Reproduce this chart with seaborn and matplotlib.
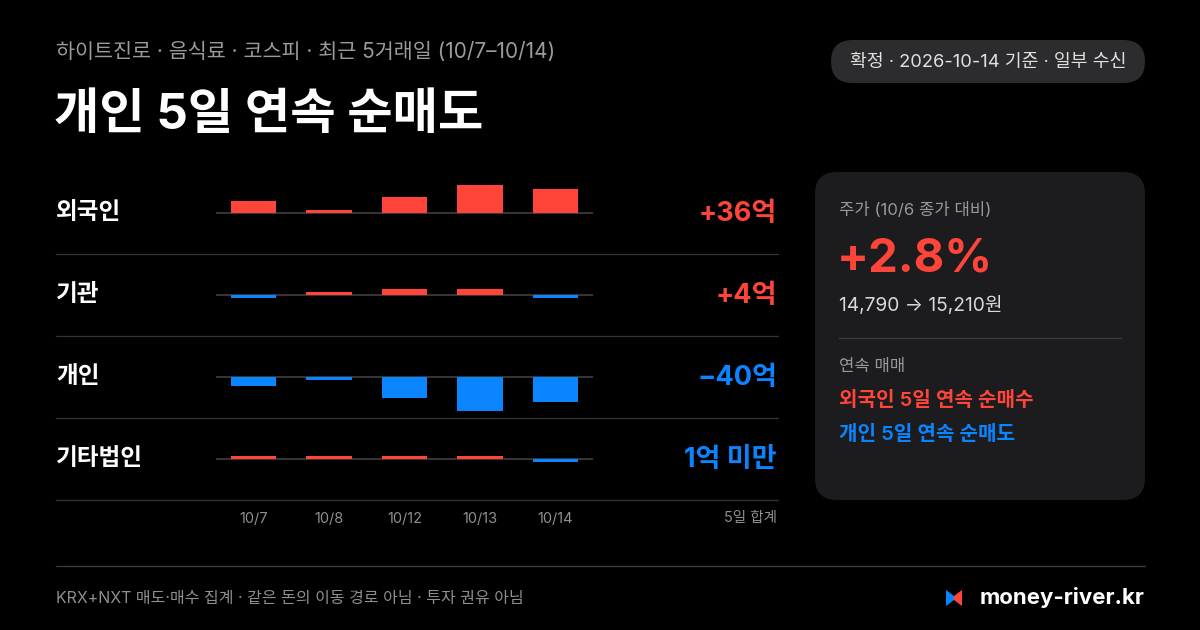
import numpy as np
import pandas as pd
import matplotlib.pyplot as plt
from matplotlib.patches import FancyBboxPatch, Polygon
import seaborn as sns

# 데이터 (단위: 억원)
dates = ['10/7', '10/8', '10/12', '10/13', '10/14']
investors = ['외국인', '기관', '개인', '기타법인']
foreign = [5.2, 1.3, 6.9, 12.1, 10.5]
institution = [-1.1, 0.9, 2.7, 2.7, -1.2]
individual = [-3.9, -1.3, -9.1, -14.8, -10.9]
other_corp = [0.2, 0.2, 0.2, 0.2, -0.9]
prev_close = 14790
last_close = 15210

RED = '#ff453a'
BLUE = '#0a84ff'
BG = '#000000'
GRID = '#3a3a3c'
W, H = 1200, 630

sns.set_theme(style='dark')
# 라틴 문자는 Inter, 한글은 Noto Sans CJK KR
plt.rcParams['font.family'] = ['Inter', 'Noto Sans CJK KR', 'DejaVu Sans']

fig = plt.figure(figsize=(12, 6.3), dpi=100)
fig.patch.set_facecolor(BG)

# 배경 레이어 (픽셀 좌표)
bg = fig.add_axes([0, 0, 1, 1])
bg.set_xlim(0, W)
bg.set_ylim(H, 0)
bg.axis('off')
bg.set_facecolor(BG)

# 헤더
bg.text(56, 52, '하이트진로 · 음식료 · 코스피 · 최근 5거래일 (10/7–10/14)', color='#9a9a9e',
        fontsize=14.9, va='center', ha='left')
bg.text(54, 116, '개인 5일 연속 순매도', color='white', fontsize=35.5, fontweight='bold',
        va='center', ha='left')
pill = FancyBboxPatch((831, 40), 314, 43, boxstyle='round,pad=0,rounding_size=21.5',
                      fc='#2c2c2e', ec='none')
bg.add_patch(pill)
bg.text(988, 62, '확정 · 2026-10-14 기준 · 일부 수신', color='#e0e0e0', fontsize=13.2,
        va='center', ha='center')

# 행별 막대
rows = [foreign, institution, individual, other_corp]
half = 35
scale = 0.435  # 억/px
min_h = 1.17
for i, (name, vals) in enumerate(zip(investors, rows)):
    y0 = 213 + 82 * i
    vals = np.array(vals)
    shown = np.sign(vals) * np.maximum(np.abs(vals), min_h)
    colors = [RED if v > 0 else BLUE for v in vals]
    ax = fig.add_axes([216 / W, (H - (y0 + half)) / H, 377 / W, 2 * half / H])
    ax.set_facecolor('none')
    df = pd.DataFrame({'date': dates, 'value': shown})
    sns.barplot(data=df, x='date', y='value', hue='date', palette=colors, legend=False,
                width=0.6, ax=ax, errorbar=None, saturation=1, zorder=2,
                linewidth=0, edgecolor='none')
    ax.axhline(0, color=GRID, lw=1.3, zorder=1)
    ax.set_xlim(-0.5, 4.5)
    ax.set_ylim(-half * scale, half * scale)
    for s in ax.spines.values():
        s.set_visible(False)
    ax.set_yticks([])
    ax.set_xlabel('')
    ax.set_ylabel('')
    ax.grid(False)
    if i == len(rows) - 1:
        ax.tick_params(axis='x', length=0, pad=13, labelsize=10.5, labelcolor='#8e8e93')
    else:
        ax.set_xticks([])

    # 행 이름과 5일 합계
    bg.text(56, y0, name, color='white', fontsize=17, fontweight='semibold',
            va='center', ha='left')
    total = vals.sum()
    if abs(total) < 1:
        label = '1억 미만'
    else:
        label = f'{total:+.0f}억'.replace('-', '−')
    bg.text(777, y0 + 1, label, color=RED if total > 0 else BLUE, fontsize=19.5,
            fontweight='bold', va='center', ha='right')
    bg.plot([56, 778], [y0 + 41, y0 + 41], color='#333336', lw=1)

bg.text(777, 518, '5일 합계', color='#8e8e93', fontsize=10.5, va='center', ha='right')

# 오른쪽 카드
card = FancyBboxPatch((815, 172), 330, 328, boxstyle='round,pad=0,rounding_size=22',
                      fc='#1c1c1e', ec='none')
bg.add_patch(card)
pct = (last_close / prev_close - 1) * 100
bg.text(839, 210, '주가 (10/6 종가 대비)', color='#98989d', fontsize=12, va='center')
bg.text(837, 259, f'{pct:+.1f}%', color=RED, fontsize=34, fontweight='bold', va='center')
bg.text(839, 306, f'{prev_close:,} → {last_close:,}원', color='#d8d8dc', fontsize=13.8,
        va='center')
bg.plot([839, 1121], [338, 338], color='#3a3a3c', lw=1)
bg.text(839, 366, '연속 매매', color='#98989d', fontsize=12, va='center')
bg.text(839, 401, '외국인 5일 연속 순매수', color=RED, fontsize=14.5, fontweight='semibold',
        va='center')
bg.text(839, 435, '개인 5일 연속 순매도', color=BLUE, fontsize=14.5, fontweight='semibold',
        va='center')

# 하단
bg.plot([56, 1145], [566, 566], color='#3a3a3c', lw=1)
bg.text(56, 598, 'KRX+NXT 매도·매수 집계 · 같은 돈의 이동 경로 아님 · 투자 권유 아님',
        color='#8e8e93', fontsize=11.5, va='center')
bg.add_patch(Polygon([[946, 590], [954, 596], [954, 600], [946, 606]], closed=True,
                     fc=BLUE, ec='none'))
bg.add_patch(Polygon([[962, 590], [954, 596], [954, 600], [962, 606]], closed=True,
                     fc=RED, ec='none'))
bg.text(980, 598, 'money-river.kr', color='white', fontsize=16, fontweight='bold',
        va='center')

plt.savefig('out.png', dpi=100, facecolor=BG)
